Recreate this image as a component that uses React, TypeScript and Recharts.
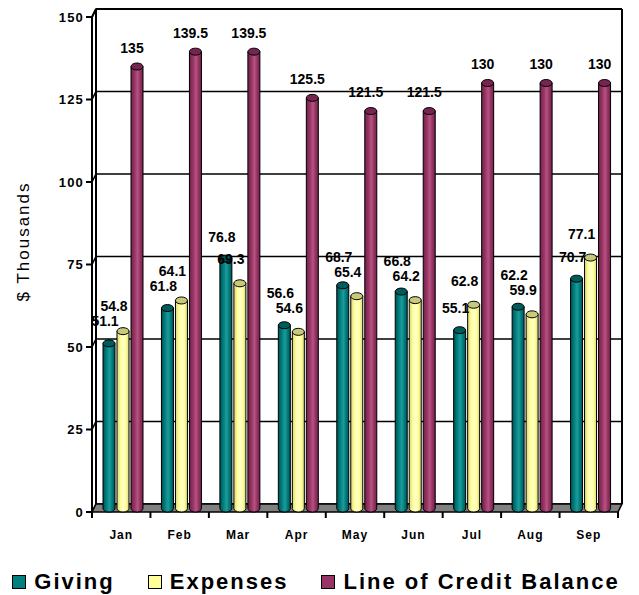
import {
  BarChart,
  Bar,
  XAxis,
  YAxis,
  CartesianGrid,
  Legend,
  LabelList,
  ReferenceArea,
} from "recharts";

const months = ["Jan", "Feb", "Mar", "Apr", "May", "Jun", "Jul", "Aug", "Sep"];
const giving = [51.1, 61.8, 76.8, 56.6, 68.7, 66.8, 55.1, 62.2, 70.7];
const expenses = [54.8, 64.1, 69.3, 54.6, 65.4, 64.2, 62.8, 59.9, 77.1];
const lineOfCredit = [135, 139.5, 139.5, 125.5, 121.5, 121.5, 130, 130, 130];
const yTicks = [0, 25, 50, 75, 100, 125, 150];

const rows = months.map((month, i) => ({
  month,
  giving: giving[i],
  expenses: expenses[i],
  credit: lineOfCredit[i],
}));

const FONT = "'Liberation Sans', Arial, Helvetica, sans-serif";
// 3D depth of the back wall
const DX = 4;
const DY = -8;
const SHIFT = 2;
const LABEL_GAP = 15;

const series = [
  { key: "giving", name: "Giving", color: "#008080", top: "#005c5c", light: "#1f9a9a", dark: "#005050", labelDx: -4, labelDy: 17 },
  { key: "expenses", name: "Expenses", color: "#FFFF99", top: "#c9c97a", light: "#ffffcc", dark: "#d6d67a", labelDx: -9, labelDy: 19 },
  { key: "credit", name: "Line of Credit Balance", color: "#993366", top: "#76264e", light: "#b4557f", dark: "#6e2248", labelDx: -5, labelDy: 14 },
];

function Cylinder(props: any) {
  const { x, y, width, height, grad, top } = props;
  if (!height || height <= 0) return null;
  const x0 = x + SHIFT;
  const rx = width / 2;
  const ry = 3.5;
  const bottom = y + height;
  return (
    <g>
      <path
        d={`M${x0},${y} L${x0},${bottom - ry} A${rx},${ry} 0 0 0 ${x0 + width},${bottom - ry} L${x0 + width},${y} Z`}
        fill={`url(#${grad})`}
        stroke="#000"
        strokeWidth={1}
      />
      <ellipse cx={x0 + rx} cy={y} rx={rx} ry={ry} fill={top} stroke="#000" strokeWidth={1} />
    </g>
  );
}

function Walls(props: any) {
  const { x, y, width, height } = props;
  const bottom = y + height;
  const n = months.length;
  const ticks = [];
  for (let i = 0; i <= n; i++) ticks.push(x + (i * width) / n);
  return (
    <g>
      <line x1={x + DX} y1={y + DY} x2={x + width + DX} y2={y + DY} stroke="#000" strokeWidth={2} />
      <line x1={x + DX} y1={y + DY} x2={x + DX} y2={bottom + DY} stroke="#000" strokeWidth={2} />
      <line x1={x + width + DX} y1={y + DY} x2={x + width + DX} y2={bottom + DY} stroke="#000" strokeWidth={2} />
      <line x1={x} y1={y} x2={x + DX} y2={y + DY} stroke="#000" strokeWidth={2} />
      <path
        d={`M${x},${bottom} L${x + DX},${bottom + DY} L${x + width + DX},${bottom + DY} L${x + width},${bottom} Z`}
        fill="#808080"
        stroke="#000"
        strokeWidth={1.5}
      />
      {ticks.map((tx, i) => (
        <line key={i} x1={tx} y1={bottom} x2={tx} y2={bottom + 6} stroke="#000" strokeWidth={2} />
      ))}
    </g>
  );
}

function GridLine(props: any) {
  const { x1, y1, x2, index } = props;
  return (
    <path
      key={`g-${index}`}
      d={`M${x1},${y1} L${x1 + DX},${y1 + DY} L${x2 + DX},${y1 + DY}`}
      fill="none"
      stroke="#000"
      strokeWidth={1.6}
    />
  );
}

// giving / expenses labels: the taller bar's label is pushed up when the two would collide
const makeLabel = (key: string, dx: number, dy: number) => (p: any) => {
  const { x, y, width, height, value, index } = p;
  let base = y - dy;
  if (key !== "credit" && index != null && value) {
    const k = height / value;
    const other = key === "giving" ? expenses[index] : giving[index];
    const otherDy = key === "giving" ? series[1].labelDy : series[0].labelDy;
    if (value >= other) {
      const otherBase = y + (value - other) * k - otherDy;
      base = Math.min(base, otherBase - LABEL_GAP);
    }
  }
  return (
    <text
      x={x + width / 2 + SHIFT + dx}
      y={base}
      textAnchor="middle"
      fontFamily={FONT}
      fontSize={14}
      fontWeight="bold"
      fill="#000"
    >
      {value}
    </text>
  );
};

function LegendBox() {
  return (
    <div
      style={{
        display: "flex",
        justifyContent: "center",
        alignItems: "center",
        height: 24,
        gap: 33,
        paddingLeft: 14,
        fontFamily: FONT,
        whiteSpace: "nowrap",
      }}
    >
      {series.map((s) => (
        <div key={s.key} style={{ display: "flex", alignItems: "center" }}>
          <span
            style={{
              width: 12,
              height: 12,
              background: s.color,
              border: "1.5px solid #000",
              marginRight: 8,
              display: "inline-block",
            }}
          />
          <span style={{ fontSize: 22, fontWeight: "bold", letterSpacing: 2, color: "#000", lineHeight: "24px" }}>
            {s.name}
          </span>
        </div>
      ))}
    </div>
  );
}

export default function App() {
  return (
    <div style={{ position: "absolute", left: 0, top: 0, width: 639, height: 595, background: "#fff" }}>
      <BarChart
        width={639}
        height={595}
        data={rows}
        margin={{ top: 17, right: 21, left: 0, bottom: 1 }}
        barSize={12}
        barGap={2}
      >
        <defs>
          {series.map((s) => (
            <linearGradient key={s.key} id={`grad-${s.key}`} x1="0" y1="0" x2="1" y2="0">
              <stop offset="0%" stopColor={s.dark} />
              <stop offset="30%" stopColor={s.color} />
              <stop offset="55%" stopColor={s.light} />
              <stop offset="75%" stopColor={s.color} />
              <stop offset="100%" stopColor={s.dark} />
            </linearGradient>
          ))}
        </defs>
        <CartesianGrid vertical={false} horizontal={GridLine as any} />
        <ReferenceArea y1={0} y2={150} shape={Walls} fill="none" stroke="none" ifOverflow="extendDomain" />
        <XAxis
          dataKey="month"
          axisLine={false}
          tickLine={false}
          height={58}
          interval={0}
          tick={(p: any) => (
            <text
              x={p.x}
              y={p.y + 19}
              textAnchor="middle"
              fontFamily={FONT}
              fontSize={12}
              fontWeight="bold"
              letterSpacing={1}
              fill="#000"
            >
              {p.payload.value}
            </text>
          )}
        />
        <YAxis
          width={92}
          domain={[0, 150]}
          ticks={yTicks}
          interval={0}
          axisLine={{ stroke: "#000", strokeWidth: 2 }}
          tickLine={{ stroke: "#000", strokeWidth: 2 }}
          tickSize={6}
          tickMargin={2}
          tick={{ fill: "#000", fontFamily: FONT, fontSize: 13, fontWeight: "bold", letterSpacing: 1.2 } as any}
          label={(lp: any) => {
            const vb = lp.viewBox || { y: 17, height: 495 };
            const cy = vb.y + vb.height / 2 - 23;
            return (
              <text
                x={23}
                y={cy}
                transform={`rotate(-90, 23, ${cy})`}
                textAnchor="middle"
                dominantBaseline="central"
                fontFamily={FONT}
                fontSize={17}
                letterSpacing={2}
                fill="#000"
              >
                $ Thousands
              </text>
            );
          }}
        />
        {series.map((s) => (
          <Bar
            key={s.key}
            dataKey={s.key}
            name={s.name}
            fill={s.color}
            isAnimationActive={false}
            shape={(p: any) => <Cylinder {...p} grad={`grad-${s.key}`} top={s.top} />}
          >
            <LabelList dataKey={s.key} content={makeLabel(s.key, s.labelDx, s.labelDy)} />
          </Bar>
        ))}
        <Legend verticalAlign="bottom" content={LegendBox} />
      </BarChart>
    </div>
  );
}
